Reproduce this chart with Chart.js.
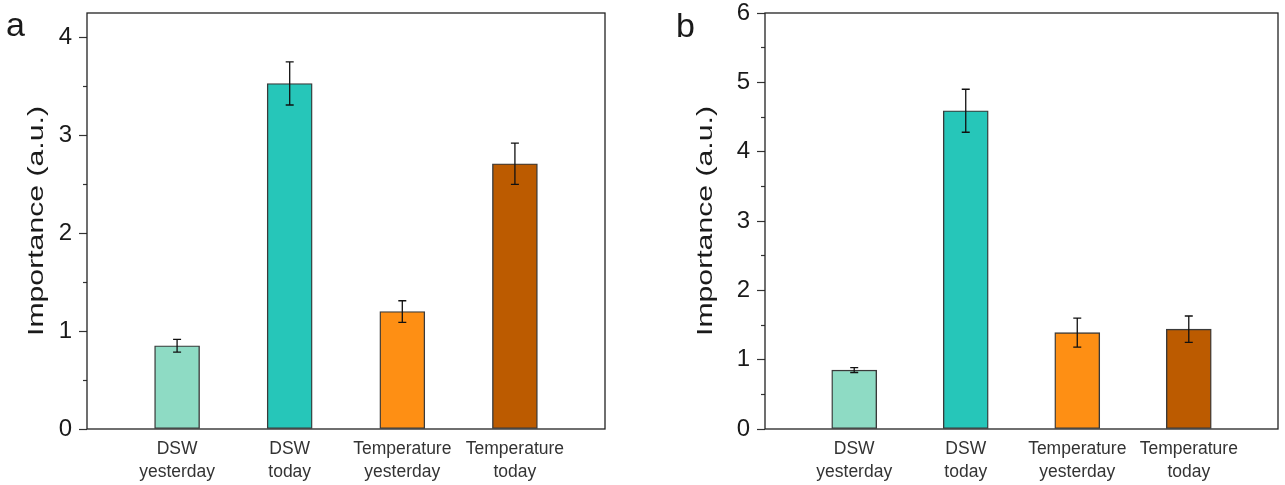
<!DOCTYPE html>
<html>
<head>
<meta charset="utf-8">
<script src="https://cdn.jsdelivr.net/npm/chart.js@4.4.1/dist/chart.umd.min.js"></script>
<style>
  html, body { margin: 0; padding: 0; background: #fff; }
  body { width: 1285px; height: 485px; position: relative; overflow: hidden; }
  .panel { position: absolute; top: 0; height: 485px; }
  #wrapA { left: 0; width: 640px; }
  #wrapB { left: 640px; width: 645px; }
</style>
</head>
<body>
<div class="panel" id="wrapA"><canvas id="chartA"></canvas></div>
<div class="panel" id="wrapB"><canvas id="chartB"></canvas></div>
<script>
// ---- data ----
const categories = [["DSW", "yesterday"], ["DSW", "today"], ["Temperature", "yesterday"], ["Temperature", "today"]];
const valuesA = [0.85, 3.53, 1.20, 2.71];
const errorsA = [0.065, 0.22, 0.11, 0.21];
const valuesB = [0.85, 4.59, 1.39, 1.44];
const errorsB = [0.035, 0.31, 0.21, 0.19];
const yTicksA = [0, 1, 2, 3, 4];
const yTicksB = [0, 1, 2, 3, 4, 5, 6];
const barColors = ["#8EDBC4", "#26C6B9", "#FE8F14", "#BC5B00"];
const yTitle = "Importance (a.u.)";

const FONT = '"Liberation Sans", Arial, sans-serif';

const errorBarPlugin = {
  id: 'errorBars',
  afterDatasetsDraw(chart, args, opts) {
    const ctx = chart.ctx;
    const meta = chart.getDatasetMeta(0);
    const yScale = chart.scales.y;
    const vals = chart.data.datasets[0].data;
    ctx.save();
    ctx.strokeStyle = '#111';
    ctx.lineWidth = 1.3;
    meta.data.forEach((el, i) => {
      const v = vals[i].y, e = opts.errors[i];
      const yTop = yScale.getPixelForValue(v + e);
      const yBot = yScale.getPixelForValue(v - e);
      const x = el.x;
      ctx.beginPath();
      ctx.moveTo(x, yTop); ctx.lineTo(x, yBot);
      ctx.moveTo(x - 4, yTop); ctx.lineTo(x + 4, yTop);
      ctx.moveTo(x - 4, yBot); ctx.lineTo(x + 4, yBot);
      ctx.stroke();
    });
    ctx.restore();
  }
};

const framePlugin = {
  id: 'frame',
  afterDraw(chart, args, opts) {
    const ctx = chart.ctx;
    const a = chart.chartArea;
    ctx.save();
    ctx.strokeStyle = '#222';
    ctx.lineWidth = 1.3;
    ctx.strokeRect(a.left, a.top, a.right - a.left, a.bottom - a.top);
    // y-axis title (stretched along its length)
    ctx.fillStyle = '#1a1a1a';
    ctx.font = '22px ' + FONT;
    const w = ctx.measureText(yTitle).width;
    ctx.translate(opts.titleX, (a.top + a.bottom) / 2);
    ctx.rotate(-Math.PI / 2);
    ctx.scale(opts.titleLen / w, 1);
    ctx.textAlign = 'center';
    ctx.textBaseline = 'alphabetic';
    ctx.fillText(yTitle, 0, 0);
    ctx.restore();
    // panel letter
    ctx.save();
    ctx.fillStyle = '#1a1a1a';
    ctx.font = '34px ' + FONT;
    ctx.textBaseline = 'alphabetic';
    ctx.fillText(opts.letter, opts.letterX, opts.letterY);
    ctx.restore();
  }
};

function makeChart(id, values, errors, yMax, yTicks, yWidth, padRight, letter, letterX, letterY, titleX) {
  const data = values.map((v, i) => ({ x: i + 1, y: v }));
  return new Chart(document.getElementById(id), {
    type: 'bar',
    data: {
      datasets: [{
        data: data,
        backgroundColor: barColors,
        borderColor: '#3a3a3a',
        borderWidth: 1.4,
        borderSkipped: false,
        barThickness: 45
      }]
    },
    options: {
      responsive: true,
      maintainAspectRatio: false,
      animation: false,
      devicePixelRatio: 1,
      layout: { padding: { top: 13, right: padRight, left: 0, bottom: 0 } },
      plugins: {
        legend: { display: false },
        tooltip: { enabled: false },
        errorBars: { errors: errors },
        frame: { letter: letter, letterX: letterX, letterY: letterY, titleX: titleX, titleLen: 230 }
      },
      scales: {
        x: {
          type: 'linear',
          offset: false,
          min: 0.2,
          max: 4.8,
          grid: { display: false, offset: false },
          border: { display: false },
          afterBuildTicks: (scale) => { scale.ticks = categories.map((c, i) => ({ value: i + 1 })); },
          afterFit: (scale) => { scale.height = 56; scale.paddingLeft = 0; scale.paddingRight = 0; },
          ticks: {
            autoSkip: false,
            maxRotation: 0,
            padding: 0,
            color: '#333',
            font: { family: FONT, size: 17.5, lineHeight: 1.35 },
            callback: (value, index) => categories[index]
          }
        },
        y: {
          type: 'linear',
          position: 'left',
          weight: 1,
          min: 0,
          max: yMax,
          afterBuildTicks: (scale) => { scale.ticks = yTicks.map(v => ({ value: v })); },
          afterFit: (scale) => { scale.width = yWidth; scale.paddingTop = 0; scale.paddingBottom = 0; },
          grid: { display: true, drawOnChartArea: false, drawTicks: true, tickLength: 8, tickColor: '#333', tickWidth: 1.2 },
          border: { display: false },
          ticks: {
            padding: 7,
            color: '#1a1a1a',
            font: { family: FONT, size: 24 },
            callback: (v) => String(v)
          }
        },
        y2: {
          type: 'linear',
          position: 'left',
          weight: 0,
          min: 0,
          max: yMax,
          afterBuildTicks: (scale) => {
            const t = [];
            for (let v = 0.5; v < yMax; v += 1) t.push({ value: v });
            scale.ticks = t;
          },
          afterFit: (scale) => { scale.width = 0; scale.paddingTop = 0; scale.paddingBottom = 0; },
          grid: { display: true, drawOnChartArea: false, drawTicks: true, tickLength: 4, tickColor: '#333', tickWidth: 1.2 },
          border: { display: false },
          ticks: { display: false }
        }
      }
    },
    plugins: [errorBarPlugin, framePlugin]
  });
}

makeChart('chartA', valuesA, errorsA, 4.25, yTicksA, 87, 35, 'a', 6, 36, 43);
makeChart('chartB', valuesB, errorsB, 6, yTicksB, 125, 7, 'b', 36, 37, 72);
</script>
</body>
</html>
